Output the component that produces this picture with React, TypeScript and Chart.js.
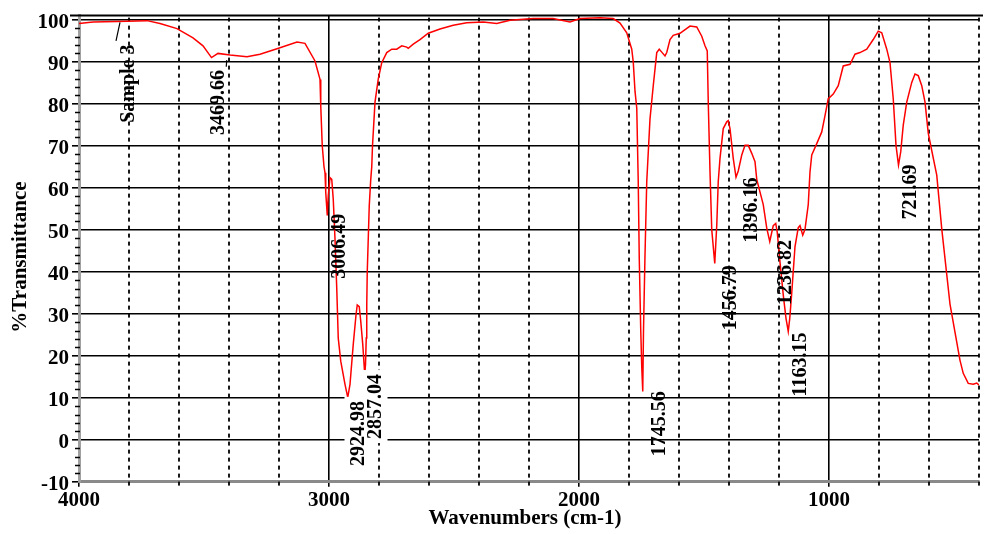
import React, { useEffect, useRef } from 'react';
import { Chart, registerables } from 'chart.js';

Chart.register(...registerables);

// ---- Data ----
const WAVENUMBERS = [
  4000, 3944, 3850, 3728, 3676, 3608, 3544, 3504, 3470, 3444, 3396, 3328, 3276, 3208, 3128, 3096,
  3056, 3036, 3033, 3027, 3020, 3016, 3013, 3007, 3003, 2996, 2989, 2983, 2976, 2969, 2963, 2953,
  2936, 2925, 2916, 2903, 2892, 2887, 2879, 2873, 2865, 2857, 2854, 2851, 2849, 2847, 2843, 2839,
  2833, 2829, 2826, 2816, 2803, 2789, 2769, 2749, 2729, 2709, 2689, 2683, 2663, 2636, 2603, 2556,
  2503, 2449, 2383, 2329, 2276, 2183, 2104, 2036, 1996, 1916, 1863, 1836, 1809, 1789, 1783, 1776,
  1769, 1763, 1759, 1753, 1749, 1745, 1742, 1736, 1729, 1716, 1703, 1689, 1679, 1669, 1656, 1649,
  1636, 1623, 1596, 1556, 1529, 1509, 1496, 1487, 1483, 1476, 1469, 1457, 1449, 1443, 1436, 1423,
  1409, 1403, 1396, 1383, 1372, 1363, 1349, 1336, 1323, 1309, 1296, 1289, 1263, 1249, 1237, 1223,
  1213, 1207, 1196, 1183, 1172, 1163, 1157, 1149, 1136, 1123, 1116, 1105, 1096, 1083, 1076, 1069,
  1049, 1029, 1016, 1003, 983, 963, 943, 916, 896, 876, 849, 823, 803, 789, 769, 756,
  743, 732, 722, 713, 703, 689, 669, 656, 643, 629, 616, 603, 596, 569, 549, 516,
  476, 463, 443, 423, 409, 400,
];

const TRANSMITTANCE = [
  99.1, 99.5, 99.6, 99.8, 99.1, 97.9, 95.7, 93.8, 91.0, 92.0, 91.6, 91.2, 91.8, 93.1, 94.7, 94.4,
  90.2, 85.8, 79.5, 70.0, 65.0, 63.6, 58.9, 53.4, 58.1, 62.4, 62.0, 57.3, 47.8, 36.0, 24.2, 18.7,
  13.2, 10.1, 13.2, 22.7, 29.7, 32.1, 31.7, 28.2, 22.7, 15.5, 17.9, 24.2, 32.1, 40.0, 47.8, 55.7,
  62.0, 65.0, 70.0, 80.4, 85.9, 89.8, 92.2, 93.0, 93.0, 93.8, 93.5, 93.2, 94.2, 95.3, 96.8, 97.8,
  98.7, 99.3, 99.5, 99.1, 99.9, 100.3, 100.3, 99.5, 100.3, 100.5, 100.3, 99.2, 96.9, 93.0, 90.0, 83.0,
  79.0, 61.3, 43.3, 26.0, 17.3, 11.5, 26.0, 44.0, 61.5, 76.4, 84.3, 92.2, 93.0, 92.3, 91.4, 92.2,
  95.3, 96.3, 96.8, 98.5, 98.3, 96.1, 93.8, 92.6, 80.4, 63.8, 50.0, 42.0, 51.0, 61.5, 67.0, 74.1,
  75.7, 76.0, 74.1, 67.0, 62.5, 64.0, 67.8, 70.1, 70.1, 68.2, 66.2, 62.0, 56.0, 50.4, 47.2, 51.0,
  51.5, 49.4, 42.3, 34.5, 28.9, 25.8, 28.9, 35.0, 46.0, 50.5, 51.0, 48.7, 50.1, 56.0, 63.8, 67.8,
  70.5, 73.3, 77.2, 81.2, 82.3, 84.3, 89.0, 89.4, 91.8, 92.2, 93.0, 95.3, 97.3, 96.9, 93.0, 89.8,
  81.2, 70.1, 65.4, 68.6, 74.9, 80.4, 85.1, 87.1, 86.7, 84.3, 80.4, 73.0, 70.9, 63.0, 50.2, 32.3,
  18.9, 15.8, 13.4, 13.2, 13.5, 13.0,
];

// axis ticks
const X_MAJOR_TICKS = [4000, 3000, 2000, 1000];
const X_MINOR_TICKS = [3800, 3600, 3400, 3200, 2800, 2600, 2400, 2200, 1800, 1600, 1400, 1200, 800, 600, 400];
const Y_TICKS = [-10, 0, 10, 20, 30, 40, 50, 60, 70, 80, 90, 100];

// peak annotations (text + anchor in data units)
const PEAK_TEXTS = ['Sample 3', '3469.66', '3006.49', '2924.98', '2857.04', '1745.56', '1456.79', '1396.16', '1236.82', '1163.15', '721.69'];
const PEAK_ANCHOR_WN = [3806, 3444, 2962, 2886, 2818, 1682, 1398, 1312, 1178, 1116, 678];
const PEAK_ANCHOR_T = [84.8, 80.3, 46.1, 1.5, 7.9, 3.8, 33.8, 54.7, 39.8, 17.9, 59.0];
const PEAK_BOXED = [false, false, false, true, true, false, false, false, false, false, false];

const X_TITLE = 'Wavenumbers (cm-1)';
const Y_TITLE = '%Transmittance';

const SERIF = '"Liberation Serif", "Times New Roman", serif';

const decorPlugin = {
  id: 'irDecor',
  beforeDatasetsDraw(chart: any) {
    const { ctx, chartArea: a, scales } = chart;
    const x = scales.x;
    const y = scales.y;
    ctx.save();
    ctx.strokeStyle = '#000';
    // dashed minor vertical grid
    ctx.lineWidth = 1.8;
    ctx.setLineDash([4, 4]);
    for (const v of X_MINOR_TICKS) {
      const px = Math.round(x.getPixelForValue(v));
      ctx.beginPath();
      ctx.moveTo(px, a.top + 2);
      ctx.lineTo(px, a.bottom + 5);
      ctx.stroke();
    }
    ctx.setLineDash([]);
    // minor y ticks
    ctx.lineWidth = 1.5;
    for (let v = -8; v < 101; v += 2) {
      if (v % 10 === 0) continue;
      const py = Math.round(y.getPixelForValue(v)) + 0.5;
      ctx.beginPath();
      ctx.moveTo(a.left - 4, py);
      ctx.lineTo(a.left + 1, py);
      ctx.stroke();
    }
    // top frame
    ctx.lineWidth = 2;
    ctx.beginPath();
    ctx.moveTo(a.left - 9, a.top);
    ctx.lineTo(a.right + 4, a.top);
    ctx.stroke();
    ctx.restore();
  },
  afterDatasetsDraw(chart: any) {
    const { ctx, chartArea: a, scales } = chart;
    const x = scales.x;
    const y = scales.y;
    ctx.save();
    const font = 'bold 20px ' + SERIF;
    ctx.font = font;
    // white boxes first
    PEAK_TEXTS.forEach((t, i) => {
      if (!PEAK_BOXED[i]) return;
      const px = x.getPixelForValue(PEAK_ANCHOR_WN[i]);
      const py = y.getPixelForValue(PEAK_ANCHOR_T[i]);
      const w = ctx.measureText(t).width;
      ctx.save();
      ctx.translate(px, py);
      ctx.rotate(-Math.PI / 2);
      ctx.fillStyle = '#fff';
      ctx.fillRect(-w / 2 - 4, -13, w + 8, 26);
      ctx.restore();
    });
    ctx.fillStyle = '#000';
    ctx.textAlign = 'center';
    ctx.textBaseline = 'middle';
    PEAK_TEXTS.forEach((t, i) => {
      const px = x.getPixelForValue(PEAK_ANCHOR_WN[i]);
      const py = y.getPixelForValue(PEAK_ANCHOR_T[i]);
      ctx.save();
      ctx.translate(px, py);
      ctx.rotate(-Math.PI / 2);
      ctx.fillText(t, 0, 1);
      ctx.restore();
    });
    // small pointer strokes
    ctx.strokeStyle = '#000';
    ctx.lineWidth = 1.2;
    ctx.beginPath();
    ctx.moveTo(x.getPixelForValue(3836), y.getPixelForValue(99.4));
    ctx.lineTo(x.getPixelForValue(3852), y.getPixelForValue(95.0));
    ctx.moveTo(x.getPixelForValue(3409), y.getPixelForValue(90.4));
    ctx.lineTo(x.getPixelForValue(3411), y.getPixelForValue(88.8));
    ctx.stroke();
    // axis titles
    ctx.font = 'bold 21px ' + SERIF;
    ctx.textAlign = 'center';
    ctx.textBaseline = 'middle';
    ctx.fillText(X_TITLE, (a.left + a.right) / 2 - 4, 519);
    ctx.save();
    ctx.translate(21, 257);
    ctx.rotate(-Math.PI / 2);
    ctx.fillText(Y_TITLE, 0, 0);
    ctx.restore();
    ctx.restore();
  },
};

export default function App() {
  const ref = useRef<HTMLCanvasElement | null>(null);

  useEffect(() => {
    const canvas = ref.current;
    if (!canvas) return;
    const points = WAVENUMBERS.map((w, i) => ({ x: w, y: TRANSMITTANCE[i] }));
    const tickFont = { family: SERIF, size: 21, weight: 'bold' as const };
    const chart = new Chart(canvas, {
      type: 'line',
      data: {
        datasets: [
          {
            label: 'Sample 3',
            data: points,
            borderColor: '#ff0000',
            borderWidth: 1.5,
            pointRadius: 0,
            tension: 0,
            fill: false,
          },
        ],
      },
      options: {
        animation: false,
        responsive: false,
        maintainAspectRatio: false,
        layout: { padding: { top: 11.5, right: 13, left: 0, bottom: 0 } },
        plugins: {
          legend: { display: false },
          tooltip: { enabled: false },
        },
        scales: {
          x: {
            type: 'linear',
            min: 400,
            max: 4000,
            reverse: true,
            afterBuildTicks: (s: any) => {
              s.ticks = X_MAJOR_TICKS.map((v) => ({ value: v }));
            },
            afterFit: (s: any) => {
              s.height = 52.3;
            },
            grid: { color: '#000', lineWidth: 1.6, tickLength: 5, tickColor: '#000' },
            border: { color: '#8a8a8a', width: 3 },
            ticks: {
              font: tickFont,
              color: '#000',
              padding: 1,
              maxRotation: 0,
              autoSkip: false,
              callback: (v: any) => String(v),
            },
          },
          y: {
            type: 'linear',
            min: -10,
            max: 101,
            afterBuildTicks: (s: any) => {
              s.ticks = Y_TICKS.map((v) => ({ value: v }));
            },
            afterFit: (s: any) => {
              s.width = 79;
            },
            grid: { color: '#000', lineWidth: 1.6, tickLength: 7, tickColor: '#000' },
            border: { color: '#a0a0a0', width: 3 },
            ticks: {
              font: tickFont,
              color: '#000',
              padding: 3,
              labelOffset: 3,
              autoSkip: false,
              callback: (v: any) => String(v),
            },
          },
        },
      },
      plugins: [decorPlugin],
    });
    return () => chart.destroy();
  }, []);

  return (
    <div style={{ position: 'absolute', left: 0, top: 0, width: 992, height: 534, background: '#fff' }}>
      <canvas ref={ref} width={992} height={534} style={{ display: 'block' }} />
    </div>
  );
}
